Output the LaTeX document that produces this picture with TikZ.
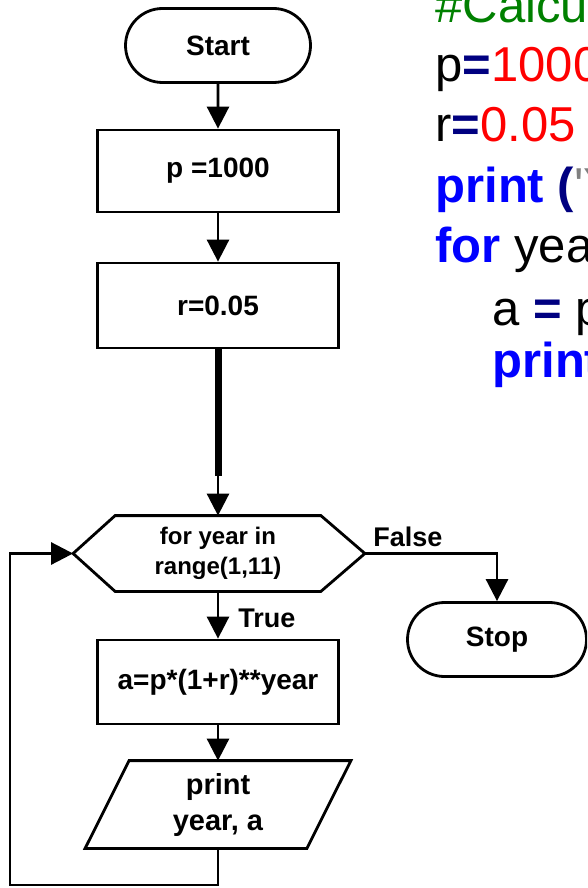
\documentclass[tikz,border=0pt]{standalone}
\usepackage{fontspec}
\setmainfont{Liberation Sans}
\usetikzlibrary{arrows.meta,shapes.misc}
\definecolor{cmtgreen}{HTML}{008000}
\definecolor{opnavy}{HTML}{000080}
\definecolor{numred}{HTML}{FF0000}
\definecolor{kwblue}{HTML}{0000FF}
\definecolor{strgrey}{HTML}{808080}
% syntax colouring helpers for the listing
\newcommand{\kw}[1]{{\bfseries\color{kwblue}#1}}
\newcommand{\op}[1]{{\bfseries\color{opnavy}#1}}
\newcommand{\num}[1]{{\color{numred}#1}}
\newcommand{\str}[1]{{\color{strgrey}#1}}
\newcommand{\sq}{\textquotesingle}
\begin{document}
\begin{tikzpicture}[x=1pt,y=-1pt,
  line width=2.8pt,
  every node/.style={font=\bfseries\fontsize{28}{34}\selectfont, inner sep=0pt},
  terminal/.style={draw, rounded rectangle, minimum width=#1, minimum height=74pt},
  procbox/.style={draw, rectangle, minimum width=241pt, minimum height=#1},
  hidden/.style={draw=none, rectangle, minimum width=#1},
  flow/.style={-{Triangle[length=22pt,width=22pt]}},
  lbl/.style={anchor=base west, font=\bfseries\fontsize{27}{32}\selectfont},
  code/.style={anchor=base west, font=\mdseries\fontsize{49}{58}\selectfont}
]
\useasboundingbox (0,0) rectangle (587,888);
\clip (0,0) rectangle (587,888);

% ---- flowchart nodes (main column on x = 218)
\node[terminal=185pt] (start) at (218,45.5) {Start};
\node[procbox=82pt] (p) at (218,171) {p =1000};
\node[procbox=85pt] (r) at (218,305.5) {r=0.05};
\node[hidden=203pt, minimum height=73pt,
      font=\bfseries\fontsize{24}{30}\selectfont, align=center]
      (loop) at (218,553.5) {for year in\\range(1,11)};
\node[procbox=84pt] (a) at (218,682) {a=p*(1+r)**year};
\node[hidden=219pt, minimum height=85pt,
      font=\bfseries\fontsize{29}{36}\selectfont, align=center]
      (out) at (218,804.5) {print\\year, a};
\node[terminal=179pt] (stop) at (497,639.5) {Stop};

% ---- hexagon (loop test) outline
\coordinate (hexW) at ([xshift=-42pt]loop.west);
\coordinate (hexE) at ([xshift=44pt]loop.east);
\draw (hexW) -- (loop.north west) -- (loop.north east) -- (hexE)
      -- (loop.south east) -- (loop.south west) -- cycle;

% ---- parallelogram (output) outline
\draw ([xshift=-22pt]out.south west) -- ([xshift=22pt]out.north west)
      -- ([xshift=22pt]out.north east) -- ([xshift=-22pt]out.south east) -- cycle;

% ---- connectors
\draw[flow] (start) -- (p);
\draw[flow] (p) -- (r);
\coordinate (thickEnd) at (218,476);
\draw[flow] (r.south) -- (loop.north);
\draw[line width=7pt] (r.south) -- (thickEnd);
\draw[flow] (loop.south) -- (a.north);
\draw[flow] (a.south) -- (out.north);
\draw[flow] (hexE) -| (stop.north);
\coordinate (loopCorner) at (10,885);
\draw[flow] (out.south) |- (loopCorner) |- (hexW);

% ---- branch labels
\node[lbl] (lblTrue) at (237,627) {True};
\node[lbl] (lblFalse) at (372,546) {False};

% ---- program listing
\node[code] (l1) at (434,23) {\color{cmtgreen}\#Calculate compound interest};
\node[code] (l2) at (434,82) {p\op{=}\num{1000}};
\node[code] (l3) at (434,142) {r\op{=}\num{0.05}};
\node[code] (l4) at (434,202) {\kw{print} \op{(}\str{\sq Year\sq}\op{,}\str{\sq Amount\sq}\op{)}};
\node[code] (l5) at (434,262) {\kw{for} year \kw{in} range\op{(}\num{1}\op{,}\num{11}\op{):}};
\node[code] (l6) at (491,325) {a \op{=} p\op{*(}\num{1}\op{+}r\op{)**}year};
\node[code] (l7) at (491,377) {\kw{print}\op{(}year\op{,} a\op{)}};
\end{tikzpicture}
\end{document}
